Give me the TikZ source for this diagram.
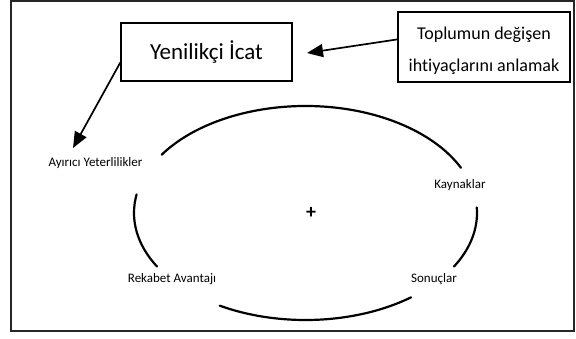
\documentclass[tikz,border=0pt]{standalone}
\usepackage{fontspec}
\setmainfont{Carlito}[Ligatures={NoCommon}, RawFeature={-liga}]
\usetikzlibrary{arrows.meta}
\begin{document}
\begin{tikzpicture}[x=1pt,y=1pt,
  box/.style={draw=black, line width=1.5pt, inner sep=0pt, align=center},
  lbl/.style={font=\fontsize{13}{15}\selectfont, inner sep=0pt},
  arr/.style={line width=1.7pt, -{Triangle[length=16pt,width=13pt]}},
  ring/.style={line width=2.2pt, line cap=round}]
\useasboundingbox (0,0) rectangle (576,-338);
\node[draw=black!85, line width=2.2pt, minimum width=563pt, minimum height=330pt, inner sep=0pt] (frame) at (292.5,-166) {};
\node[box, minimum width=171pt, minimum height=58pt, font=\fontsize{23}{27}\selectfont] (yeni) at (206.5,-52) {Yenilikçi İcat};
\node[box, minimum width=172pt, minimum height=70pt, font=\fontsize{18}{32}\selectfont] (toplum) at (484,-47) {\rule{0pt}{21pt}Toplumun değişen\\ihtiyaçlarını anlamak};
\node[lbl] (ayirici) at (95.5,-163) {Ayırıcı Yeterlilikler};
\node[lbl] (kaynak) at (460,-185) {Kaynaklar};
\node[lbl] (sonuc) at (434,-279) {Sonuçlar};
\node[lbl] (rekabet) at (172,-279) {Rekabet Avantajı};
\node[font=\fontsize{20}{20}\selectfont\bfseries, inner sep=0pt] (plus) at (311,-213) {+};
\coordinate (c) at (305.5,-213);
\coordinate (tip1) at (307,-53);
\coordinate (tip2) at (73,-148);
\draw[arr] (toplum.175) -- (tip1);
\draw[arr] (yeni.187) -- (tip2);
\draw[ring] ([shift={(147:171.5pt and 107pt)}]c) arc[start angle=147, end angle=25, x radius=171.5pt, y radius=107pt];
\draw[ring] ([shift={(170:171.5pt and 107pt)}]c) arc[start angle=170, end angle=210, x radius=171.5pt, y radius=107pt];
\draw[ring] ([shift={(240:171.5pt and 107pt)}]c) arc[start angle=240, end angle=308, x radius=171.5pt, y radius=107pt];
\draw[ring] ([shift={(-30:171.5pt and 107pt)}]c) arc[start angle=-30, end angle=3, x radius=171.5pt, y radius=107pt];
\end{tikzpicture}
\end{document}
